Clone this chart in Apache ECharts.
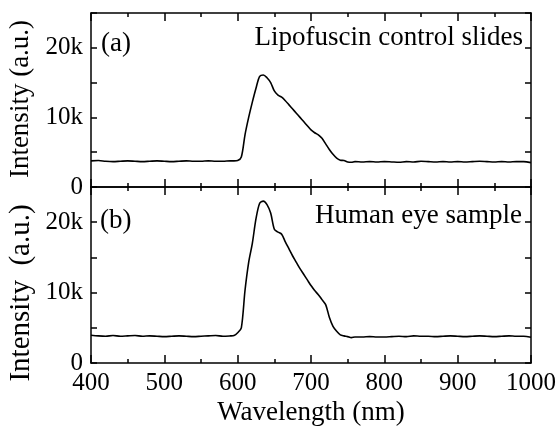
<!DOCTYPE html>
<html><head><meta charset="utf-8">
<script src="https://cdn.jsdelivr.net/npm/echarts@6/dist/echarts.min.js"></script>
<style>html,body{margin:0;padding:0;background:#fff}#c{width:557px;height:429px}</style>
</head><body><div id="c"></div>
<script>
const wavelengths = [
400,410,420,430,440,450,460,470,480,490,500,510,520,530,540,550,560,570,580,590,
595,600,605,610,615,620,625,630,635,640,645,650,655,660,665,670,675,680,685,690,695,700,705,710,715,720,725,730,735,740,745,750,755,760,
770,780,790,800,810,820,830,840,850,860,870,880,890,900,910,920,930,940,950,960,970,980,990,1000];
const lipofuscin = [
3750,3800,3700,3650,3700,3750,3700,3650,3700,3750,3700,3650,3700,3750,3700,3700,3750,3700,3700,3750,
3750,3800,4300,7500,10000,12200,14200,15900,16100,15700,15000,13800,13200,12900,12400,11800,11200,10600,10000,9400,8800,8200,7800,7500,7000,6200,5400,4700,4150,3850,3800,3600,3550,3650,
3600,3650,3600,3650,3600,3550,3650,3600,3700,3650,3600,3650,3600,3650,3600,3650,3700,3650,3600,3650,3600,3650,3650,3500];
const humanEye = [
3950,3850,3800,3900,3800,3850,3900,3800,3850,3800,3750,3800,3850,3800,3750,3800,3850,3900,3800,3850,
3900,4300,5000,10300,14300,17000,20500,22700,23000,22500,21300,19000,18600,18300,17200,16200,15200,14300,13400,12600,11800,11000,10300,9700,9000,8300,6500,5200,4500,4000,3850,3750,3600,3700,
3700,3750,3700,3700,3750,3800,3750,3850,3800,3800,3750,3800,3850,3800,3750,3800,3850,3800,3750,3800,3850,3800,3800,3650];
const xTicks = [400,500,600,700,800,900,1000];
const yTickLabels = {0:'0',10000:'10k',20000:'20k'};

const F = 'Liberation Serif';
const pair = a => wavelengths.map((w,i)=>[w,a[i]]);
function xAx(grid, pos, labels){
  return {type:'value', gridIndex:grid, position:pos, min:400, max:1000, interval:100,
    axisLine:{show:true,onZero:false,lineStyle:{color:'#000',width:1.5}},
    axisTick:{show:true,inside:true,length:8,lineStyle:{color:'#000',width:1.5}},
    minorTick:{show:true,splitNumber:2,length:4,lineStyle:{color:'#000',width:1.5}},
    splitLine:{show:false}, minorSplitLine:{show:false},
    axisLabel:{show:labels,color:'#000',fontFamily:F,fontSize:25,margin:8,
      formatter:v=>xTicks.includes(v)?String(v):''},
    name: labels?'Wavelength (nm)':'', nameLocation:'middle', nameGap:36,
    nameTextStyle:{color:'#000',fontFamily:F,fontSize:27}};
}
function yAx(grid,pos,labels){
  return {type:'value', gridIndex:grid, position:pos, min:0, max:25000, interval:5000,
    axisLine:{show:true,onZero:false,lineStyle:{color:'#000',width:1.5}},
    axisTick:{show:true,inside:true,length:6,lineStyle:{color:'#000',width:1.5}},
    splitLine:{show:false},
    axisLabel:{show:labels,color:'#000',fontFamily:F,fontSize:25,margin:8,
      formatter:v=>yTickLabels[v]!==undefined?yTickLabels[v]:''}};
}
const chart = echarts.init(document.getElementById('c'),null,{renderer:'canvas'});
chart.setOption({
  animation:false,
  backgroundColor:'#fff',
  grid:[{left:91,right:26,top:13,height:174,containLabel:false,outerBoundsMode:'none'},
        {left:91,right:26,top:187,height:176,containLabel:false,outerBoundsMode:'none'}],
  xAxis:[xAx(0,'bottom',false),xAx(0,'top',false),xAx(1,'bottom',true),xAx(1,'top',false)],
  yAxis:[yAx(0,'left',true),yAx(0,'right',false),yAx(1,'left',true),yAx(1,'right',false)],
  series:[
    {type:'line',xAxisIndex:0,yAxisIndex:0,data:pair(lipofuscin),showSymbol:false,smooth:0.3,
      lineStyle:{color:'#000',width:1.6}},
    {type:'line',xAxisIndex:2,yAxisIndex:2,data:pair(humanEye),showSymbol:false,smooth:0.3,
      lineStyle:{color:'#000',width:1.6}}
  ],
  graphic:[
    {type:'text',x:21,y:99,rotation:Math.PI/2,style:{text:'Intensity (a.u.)',font:'27px "Liberation Serif"',fill:'#000',align:'center',verticalAlign:'middle'}},
    {type:'text',x:21,y:293,rotation:Math.PI/2,style:{text:'Intensity  (a.u.)',font:'29px "Liberation Serif"',fill:'#000',align:'center',verticalAlign:'middle'}},
    {type:'text',x:101,y:44,style:{text:'(a)',font:'27px "Liberation Serif"',fill:'#000',align:'left',verticalAlign:'middle'}},
    {type:'text',x:523,y:38,style:{text:'Lipofuscin control slides',font:'27px "Liberation Serif"',fill:'#000',align:'right',verticalAlign:'middle'}},
    {type:'text',x:100,y:221,style:{text:'(b)',font:'27px "Liberation Serif"',fill:'#000',align:'left',verticalAlign:'middle'}},
    {type:'text',x:522,y:216,style:{text:'Human eye sample',font:'27px "Liberation Serif"',fill:'#000',align:'right',verticalAlign:'middle'}}
  ]
});
</script></body></html>
